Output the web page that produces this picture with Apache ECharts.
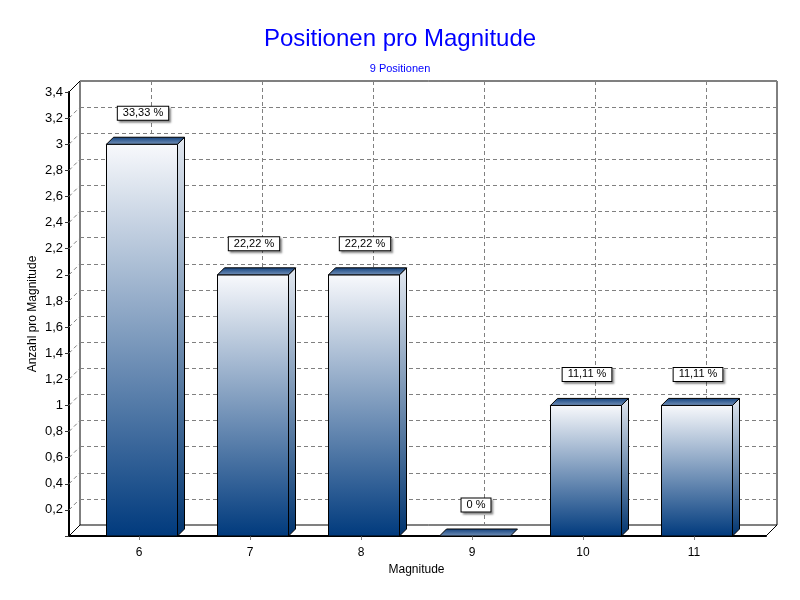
<!DOCTYPE html>
<html>
<head>
<meta charset="utf-8">
<script src="https://cdn.jsdelivr.net/npm/echarts@6/dist/echarts.min.js"></script>
<style>html,body{margin:0;padding:0;background:#fff}#c{width:800px;height:600px}</style>
</head>
<body>
<div id="c"></div>
<script>
var categories = ['6', '7', '8', '9', '10', '11'];
var values = [3, 2, 2, 0, 1, 1];
var yTicks = [0, 0.2, 0.4, 0.6, 0.8, 1, 1.2, 1.4, 1.6, 1.8, 2, 2.2, 2.4, 2.6, 2.8, 3, 3.2, 3.4];
var titleText = 'Positionen pro Magnitude';
var subText = '9 Positionen';
var yName = 'Anzahl pro Magnitude';
var xName = 'Magnitude';

var FONT = 'Liberation Sans, Arial, sans-serif';
var total = values.reduce(function (a, b) { return a + b; }, 0);
function pct(v) {
  return (Math.round(v / total * 10000) / 100).toString().replace('.', ',') + ' %';
}
var DX = 7, DY = -7, WALL = 11;

var chart = echarts.init(document.getElementById('c'), null, { renderer: 'canvas' });

var dashed = { color: '#808080', width: 1, type: [4, 3] };

var option = {
  backgroundColor: '#ffffff',
  animation: false,
  title: [
    { text: titleText, left: 'center', top: 22, textStyle: { color: '#0000ff', fontSize: 24, fontWeight: 'normal', fontFamily: FONT } },
    { text: subText, left: 'center', top: 58, textStyle: { color: '#0000ff', fontSize: 11, fontWeight: 'normal', fontFamily: FONT } }
  ],
  graphic: [
    { type: 'text', x: 33, y: 314, rotation: Math.PI / 2,
      style: { text: yName, fill: '#000', font: '12px ' + FONT, align: 'center', verticalAlign: 'middle' } }
  ],
  grid: [
    { left: 80, right: 23, top: 81, bottom: 75, show: true, borderColor: '#000', borderWidth: 1, backgroundColor: '#fff' },
    { left: 151, right: 94, top: 81, bottom: 75 },
    { left: 69, right: 34, top: 92, bottom: 64 },
    { left: 83.5, right: 50.5, top: 92, bottom: 64 }
  ],
  xAxis: [
    { gridIndex: 0, type: 'category', data: categories, show: false },
    { gridIndex: 1, type: 'category', data: categories, boundaryGap: false,
      axisLine: { show: false }, axisTick: { show: false }, axisLabel: { show: false },
      splitLine: { show: true, interval: 0, lineStyle: dashed } },
    { gridIndex: 2, type: 'value', min: 0, max: 1,
      axisLine: { show: true, onZero: false, lineStyle: { color: '#000', width: 2 } },
      axisTick: { show: false }, axisLabel: { show: false }, splitLine: { show: false } },
    { gridIndex: 3, type: 'category', data: categories,
      axisLine: { show: false },
      axisTick: { show: true, alignWithLabel: true, interval: 0, length: 4, lineStyle: { color: '#808080' } },
      axisLabel: { interval: 0, margin: 11, color: '#000', fontSize: 12, fontFamily: FONT },
      splitLine: { show: false },
      name: xName, nameLocation: 'middle', nameGap: 28,
      nameTextStyle: { color: '#000', fontSize: 12, fontFamily: FONT } }
  ],
  yAxis: [
    { gridIndex: 0, type: 'value', min: 0, max: 3.4, interval: 0.2,
      axisLine: { show: false }, axisTick: { show: false }, axisLabel: { show: false },
      splitLine: { show: true, lineStyle: dashed } },
    { gridIndex: 1, type: 'value', min: 0, max: 3.4, show: false },
    { gridIndex: 2, type: 'value', min: 0, max: 3.4, interval: 0.2,
      axisLine: { show: true, onZero: false, lineStyle: { color: '#000', width: 2 } },
      axisTick: { show: true, length: 4, lineStyle: { color: '#333' } },
      axisLabel: { margin: 6, color: '#000', fontSize: 13, fontFamily: FONT,
        formatter: function (v) { if (v === 0) return ''; return (Math.round(v * 10) / 10).toString().replace('.', ','); } },
      splitLine: { show: false } },
    { gridIndex: 3, type: 'value', min: 0, max: 3.4, show: false }
  ],
  series: [
    {
      type: 'custom', name: 'walls', xAxisIndex: 2, yAxisIndex: 2, z: 1,
      data: yTicks.map(function (t) { return [0, t]; }),
      silent: true,
      renderItem: function (params, api) {
        var v = api.value(1);
        var p = api.coord([0, v]);
        var last = params.dataIndex === yTicks.length - 1;
        var solid = (v === 0 || last);
        var children = [{
          type: 'line',
          shape: { x1: p[0], y1: p[1], x2: p[0] + WALL, y2: p[1] - WALL },
          style: solid ? { stroke: '#000', lineWidth: 1 } : { stroke: '#808080', lineWidth: 1, lineDash: [4, 3] }
        }];
        if (v === 0) {
          var q = api.coord([1, 0]);
          children.push({ type: 'line', shape: { x1: q[0], y1: q[1], x2: q[0] + WALL, y2: q[1] - WALL },
            style: { stroke: '#000', lineWidth: 1 } });
        }
        return { type: 'group', children: children };
      }
    },
    {
      type: 'custom', name: 'bars', xAxisIndex: 3, yAxisIndex: 3, z: 5,
      data: values.map(function (v, i) { return [i, v]; }),
      renderItem: function (params, api) {
        var i = api.value(0), v = api.value(1);
        var p = api.coord([i, v]);
        var p0 = api.coord([i, 0]);
        var xc = p[0] + 3;
        var w = 71;
        var l = xc - w / 2, r = xc + w / 2, t = p[1], b = p0[1];
        var children = [];
        if (b - t > 0.5) {
          children.push({
            type: 'rect', shape: { x: l, y: t, width: w, height: b - t },
            style: { fill: new echarts.graphic.LinearGradient(0, 0, 0, 1, [
              { offset: 0, color: '#f8f9fc' }, { offset: 1, color: '#003a7d' }]), stroke: '#000', lineWidth: 1 }
          });
          children.push({
            type: 'polygon', shape: { points: [[r, b], [r, t], [r + DX, t + DY], [r + DX, b + DY]] },
            style: { fill: new echarts.graphic.LinearGradient(0, 0, 0, 1, [
              { offset: 0, color: '#e2e8f0' }, { offset: 1, color: '#00346f' }]), stroke: '#000', lineWidth: 1 }
          });
        }
        children.push({
          type: 'polygon', shape: { points: [[l, t], [r, t], [r + DX, t + DY], [l + DX, t + DY]] },
          style: { fill: new echarts.graphic.LinearGradient(0, 0, 0, 1, [
            { offset: 0, color: '#0f3f7c' }, { offset: 1, color: '#7895bc' }]), stroke: '#000', lineWidth: 1 }
        });
        children.push({
          type: 'text', x: xc + 1, y: t - 31, z2: 10,
          style: { text: pct(v), fill: '#000', font: '11px ' + FONT, align: 'center', verticalAlign: 'middle',
            backgroundColor: '#fff', borderColor: '#000', borderWidth: 1, padding: [1, 5],
            shadowColor: 'rgba(0,0,0,0.35)', shadowOffsetX: 2, shadowOffsetY: 2, shadowBlur: 2 }
        });
        return { type: 'group', children: children };
      }
    }
  ]
};
chart.setOption(option);
</script>
</body>
</html>
